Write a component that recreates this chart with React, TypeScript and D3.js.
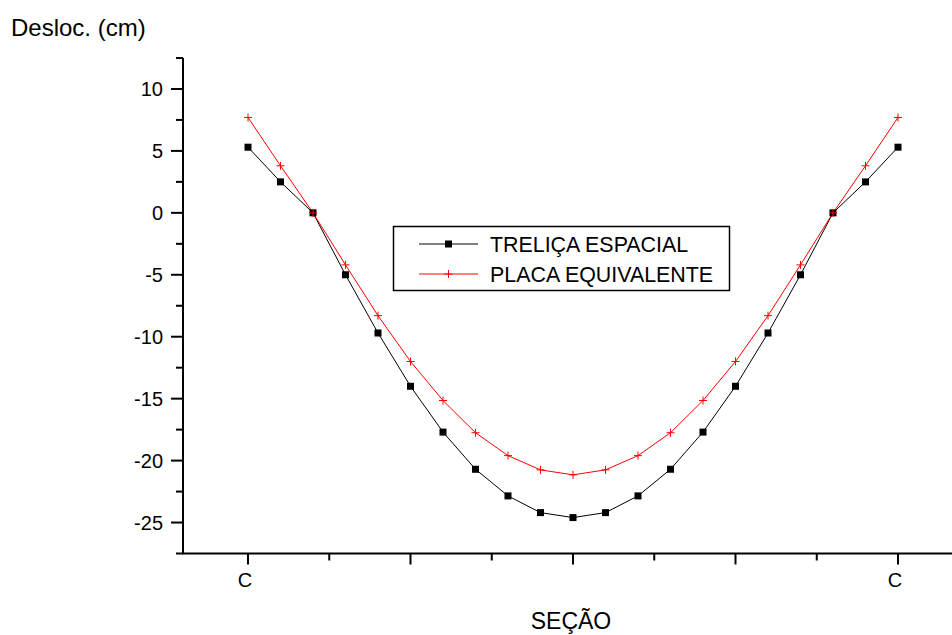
import React from "react";
import * as d3 from "d3";

const sections = [0, 1, 2, 3, 4, 5, 6, 7, 8, 9, 10, 11, 12, 13, 14, 15, 16, 17, 18, 19, 20];
const trelica = [5.3, 2.5, 0, -5.0, -9.7, -14.0, -17.7, -20.7, -22.85, -24.2, -24.6, -24.2, -22.85, -20.7, -17.7, -14.0, -9.7, -5.0, 0, 2.5, 5.3];
const placa = [7.7, 3.8, 0, -4.2, -8.3, -12.0, -15.15, -17.75, -19.6, -20.75, -21.15, -20.75, -19.6, -17.75, -15.15, -12.0, -8.3, -4.2, 0, 3.8, 7.7];
const yMajor = [-25, -20, -15, -10, -5, 0, 5, 10];
const yMinor = [-27.5, -22.5, -17.5, -12.5, -7.5, -2.5, 2.5, 7.5, 12.5];
const xMajor = [0, 5, 10, 15, 20];
const xMinor = [2.5, 7.5, 12.5, 17.5];
const xLabels: Record<number, string> = { 0: "C", 20: "C" };
const seriesNames = ["TRELIÇA ESPACIAL", "PLACA EQUIVALENTE"];

const FONT = "'Liberation Sans', Arial, Helvetica, sans-serif";

export default function App() {
  const W = 952, H = 635;
  const x = d3.scaleLinear().domain([0, 20]).range([248, 898]);
  const y = d3.scaleLinear().domain([-27.5, 12.5]).range([553.5, 58]);
  const x0 = x(-2);
  const y0 = y(-27.5);

  const lineGen = d3
    .line<number>()
    .x((_, i) => x(sections[i]))
    .y((d) => y(d));

  const square = (cx: number, cy: number, k: string) => (
    <rect key={k} x={cx - 3.5} y={cy - 3.5} width={7} height={7} fill="#000" />
  );
  const plus = (cx: number, cy: number, k: string) => (
    <path key={k} d={`M${cx - 4},${cy}H${cx + 4}M${cx},${cy - 4}V${cy + 4}`} stroke="#ff0000" strokeWidth={1} fill="none" />
  );

  return (
    <svg width={W} height={H} style={{ position: "absolute", left: 0, top: 0, background: "#fff" }} fontFamily={FONT}>
      <rect x={0} y={0} width={W} height={H} fill="#fff" />
      <text x={11} y={36} fontSize={24} fill="#000">Desloc. (cm)</text>

      {/* y axis */}
      <line x1={x0} x2={x0} y1={y(12.5)} y2={y0} stroke="#000" strokeWidth={2} />
      {yMajor.map((v) => (
        <g key={"ym" + v}>
          <line x1={x0 - 12} x2={x0} y1={y(v)} y2={y(v)} stroke="#000" strokeWidth={2} />
          <text x={x0 - 20} y={y(v)} dy="0.36em" textAnchor="end" fontSize={20} fill="#000">{v}</text>
        </g>
      ))}
      {yMinor.map((v) => (
        <line key={"yn" + v} x1={x0 - 7} x2={x0} y1={y(v)} y2={y(v)} stroke="#000" strokeWidth={2} />
      ))}

      {/* x axis */}
      <line x1={x0 - 1} x2={W + 5} y1={y0} y2={y0} stroke="#000" strokeWidth={2} />
      {xMajor.map((v) => (
        <g key={"xm" + v}>
          <line x1={x(v)} x2={x(v)} y1={y0} y2={y0 + 11} stroke="#000" strokeWidth={2} />
          {xLabels[v] && (
            <text x={x(v) - 3} y={587} textAnchor="middle" fontSize={20} fill="#000">{xLabels[v]}</text>
          )}
        </g>
      ))}
      {xMinor.map((v) => (
        <line key={"xn" + v} x1={x(v)} x2={x(v)} y1={y0} y2={y0 + 7} stroke="#000" strokeWidth={2} />
      ))}
      <text x={x(10) - 2} y={629} textAnchor="middle" fontSize={23} fill="#000">SEÇÃO</text>

      {/* series */}
      <path d={lineGen(trelica) || ""} fill="none" stroke="#000" strokeWidth={1} />
      <path d={lineGen(placa) || ""} fill="none" stroke="#ff0000" strokeWidth={1} />
      {trelica.map((v, i) => square(x(sections[i]), y(v), "s" + i))}
      {placa.map((v, i) => plus(x(sections[i]), y(v), "p" + i))}

      {/* legend */}
      <rect x={393.5} y={226.5} width={336} height={64} fill="#fff" stroke="#000" strokeWidth={1.5} />
      <line x1={419} x2={478} y1={244} y2={244} stroke="#000" strokeWidth={1} />
      {square(448.5, 244, "ls")}
      <text x={490} y={244} dy="0.36em" fontSize={21.4} fill="#000">{seriesNames[0]}</text>
      <line x1={419} x2={478} y1={274} y2={274} stroke="#ff0000" strokeWidth={1} />
      {plus(448.5, 274, "lp")}
      <text x={490} y={274} dy="0.36em" fontSize={21.4} fill="#000">{seriesNames[1]}</text>
    </svg>
  );
}
